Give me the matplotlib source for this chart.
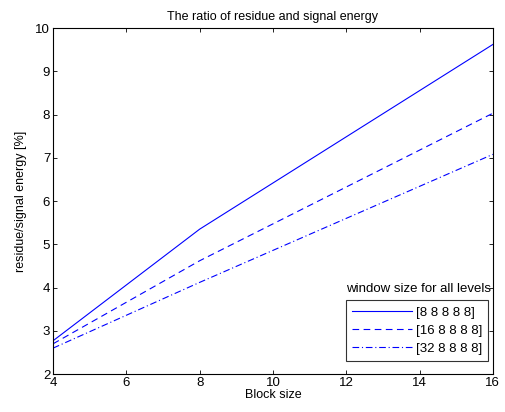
import matplotlib
matplotlib.use("Agg")
import matplotlib.pyplot as plt

plt.rcParams["font.family"] = ["Liberation Sans", "DejaVu Sans"]

block_size = [4, 8, 16]
ratio_8 = [2.77, 5.35, 9.62]
ratio_16 = [2.70, 4.62, 8.03]
ratio_32 = [2.60, 4.12, 7.08]
labels = ["[8 8 8 8 8]", "[16 8 8 8 8]", "[32 8 8 8 8]"]

fig = plt.figure(figsize=(5.05, 4.12), dpi=100)
ax = fig.add_axes([0.105, 0.092, 0.871, 0.84])

ax.plot(block_size, ratio_8, color="blue", lw=0.8, ls="-", label=labels[0])
ax.plot(block_size, ratio_16, color="blue", lw=0.8, ls=(0, (6, 4)), label=labels[1])
ax.plot(block_size, ratio_32, color="blue", lw=0.8, ls=(0, (6, 2.5, 1, 2.5)), label=labels[2])

ax.set_xlim(4, 16)
ax.set_ylim(2, 10)
ax.set_xticks(range(4, 17, 2))
ax.set_yticks(range(2, 11))
ax.tick_params(direction="in", top=True, right=True, labelsize=9.5, length=3, width=0.6, pad=2)
for s in ax.spines.values():
    s.set_linewidth(0.8)

ax.set_title("The ratio of residue and signal energy", fontsize=9, pad=6)
ax.set_xlabel("Block size", fontsize=9, labelpad=0)
ax.set_ylabel("residue/signal energy [%]", fontsize=9, labelpad=6)

leg = ax.legend(loc="lower right", bbox_to_anchor=(0.99, 0.038), fontsize=9.5,
                frameon=True, fancybox=False, edgecolor="black", handlelength=4.6,
                handletextpad=0.3, borderpad=0.45, labelspacing=0.45, borderaxespad=0)
leg.get_frame().set_linewidth(0.8)
ax.text(0.996, 0.246, "window size for all levels", transform=ax.transAxes,
        ha="right", va="center", fontsize=9.5)

fig.savefig("out.png", dpi=100)
